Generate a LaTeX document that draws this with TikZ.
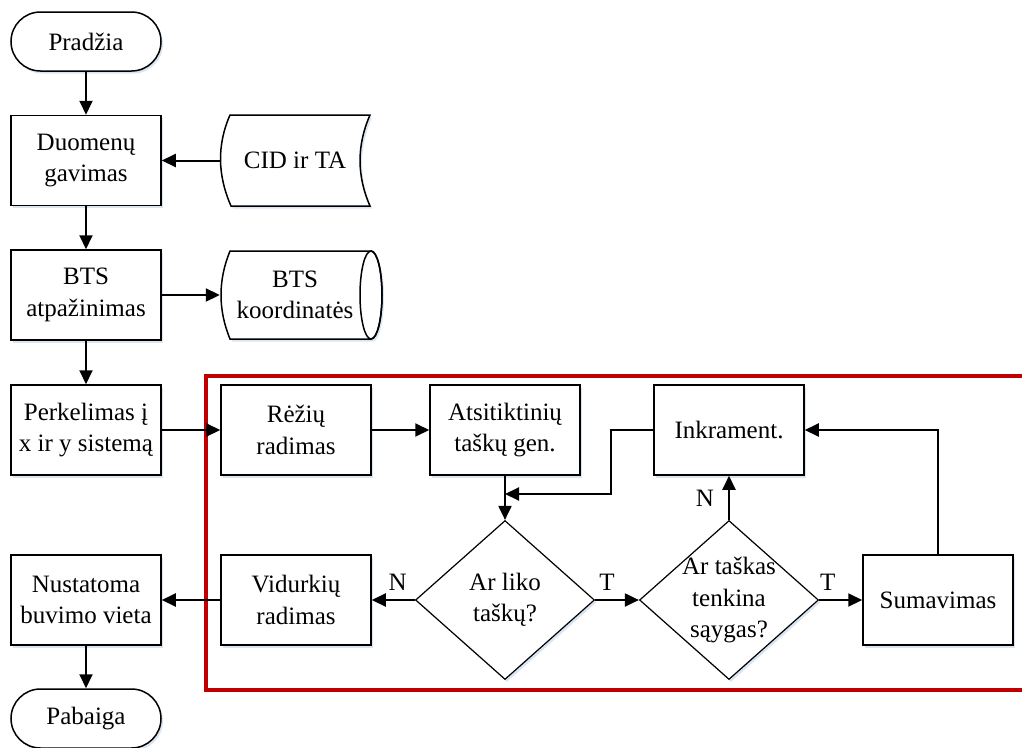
\documentclass[tikz,border=0pt]{standalone}
\usepackage{fontspec}
\setmainfont{Liberation Serif}
\usetikzlibrary{arrows.meta,shapes.geometric,shadows}
\definecolor{framered}{RGB}{192,0,0}
\definecolor{shadecol}{RGB}{218,229,242}
\newcommand{\flowfont}{\fontsize{25}{31.5}\selectfont}
\begin{document}
\begin{tikzpicture}[x=1pt,y=-1pt,
  every node/.append style={font=\flowfont},
  soft shadow/.style={drop shadow={shadow xshift=2pt,shadow yshift=-2.5pt,fill=shadecol,opacity=1}},
  box/.style={draw,line width=1.5pt,fill=white,minimum width=150pt,minimum height=90pt,
              inner sep=0pt,align=center,soft shadow},
  term/.style={box,minimum height=59pt,rounded corners=29.5pt},
  decision/.style={draw,line width=1.2pt,fill=white,diamond,minimum width=179pt,
                   minimum height=159pt,inner sep=0pt,soft shadow},
  textonly/.style={inner sep=0pt,align=center,minimum width=150pt,minimum height=90pt},
  outline/.style={draw,line width=1.5pt,fill=white},
  arr/.style={line width=2pt,-{Triangle[length=14pt,width=13pt]}},
  lbl/.style={inner sep=0pt},
  frame/.style={draw=framered,line width=4pt}]
\useasboundingbox (0,0) rectangle (1022,747);

% red frame around the search loop (open on the right)
\draw[frame] (1030,376) -- (206,376) -- (206,690) -- (1030,690);

% main column
\node[term] (start) at (86,41.5) {Pradžia};
\node[box]  (duom)  at (86,160.5) {Duomenų\\gavimas};
\node[box]  (btsa)  at (86,295) {BTS\\atpažinimas};
\node[box]  (perk)  at (86,430) {Perkelimas į\\x ir y sistemą};
\node[box]  (nust)  at (86,600) {Nustatoma\\buvimo vieta};
\node[term] (end)   at (86,718.5) {Pabaiga};

% stored data: CID ir TA
\path[outline,soft shadow] (230,115) -- (370,115)
  .. controls (356.7,145.3) and (356.7,175.7) .. (370,206) -- (231,206)
  .. controls (217.7,175.7) and (216.7,145.3) .. (230,115) -- cycle;
\node[textonly] (cid) at (295,160.5) {CID ir TA};

% direct data: BTS koordinatės
\path[outline,soft shadow] (230,251) -- (371,251)
  arc[start angle=-90,end angle=90,x radius=11,y radius=44] -- (230,339)
  .. controls (218,309.7) and (218,280.3) .. (230,251) -- cycle;
\draw[line width=1.5pt] (371,295) ellipse [x radius=11,y radius=44];
\node[textonly,minimum height=88pt] (btsk) at (295,295) {BTS\\koordinatės};

% loop
\node[box] (rez)  at (296,430) {Rėžių\\radimas};
\node[box] (ats)  at (505,430) {Atsitiktinių\\taškų gen.};
\node[box] (inkr) at (729,430) {Inkrament.};
\node[box] (vid)  at (296,600) {Vidurkių\\radimas};
\node[decision,label={[align=center]center:Ar liko\\taškų?}] (d1) at (505,600) {};
\node[decision,label={[align=center]center:Ar taškas\\tenkina\\sąygas?}] (d2) at (729,600) {};
\node[box] (sum)  at (938,600) {Sumavimas};
\coordinate (j) at (505,494);

% connectors
\draw[arr] (start) -- (duom);
\draw[arr] (cid.west) -- (duom.east);
\draw[arr] (duom) -- (btsa);
\draw[arr] (btsa.east) -- (btsk.west);
\draw[arr] (btsa) -- (perk);
\draw[arr] (perk) -- (rez);
\draw[arr] (rez) -- (ats);
\draw[arr] (ats) -- (d1);
\draw[arr] (inkr.west) -- ++(-42,0) |- (j);
\draw[arr] (d1.west) -- node[lbl,above=8.5pt,pos=.4]{N} (vid.east);
\draw[arr] (vid) -- (nust);
\draw[arr] (nust) -- (end);
\draw[arr] (d1.east) -- node[lbl,above=8.5pt,pos=.27]{T} (d2.west);
\draw[arr] (d2.north) -- node[lbl,left=14pt]{N} (inkr.south);
\draw[arr] (d2.east) -- node[lbl,above=8.5pt,pos=.2]{T} (sum.west);
\draw[arr] (sum.north) |- (inkr.east);
\end{tikzpicture}
\end{document}
